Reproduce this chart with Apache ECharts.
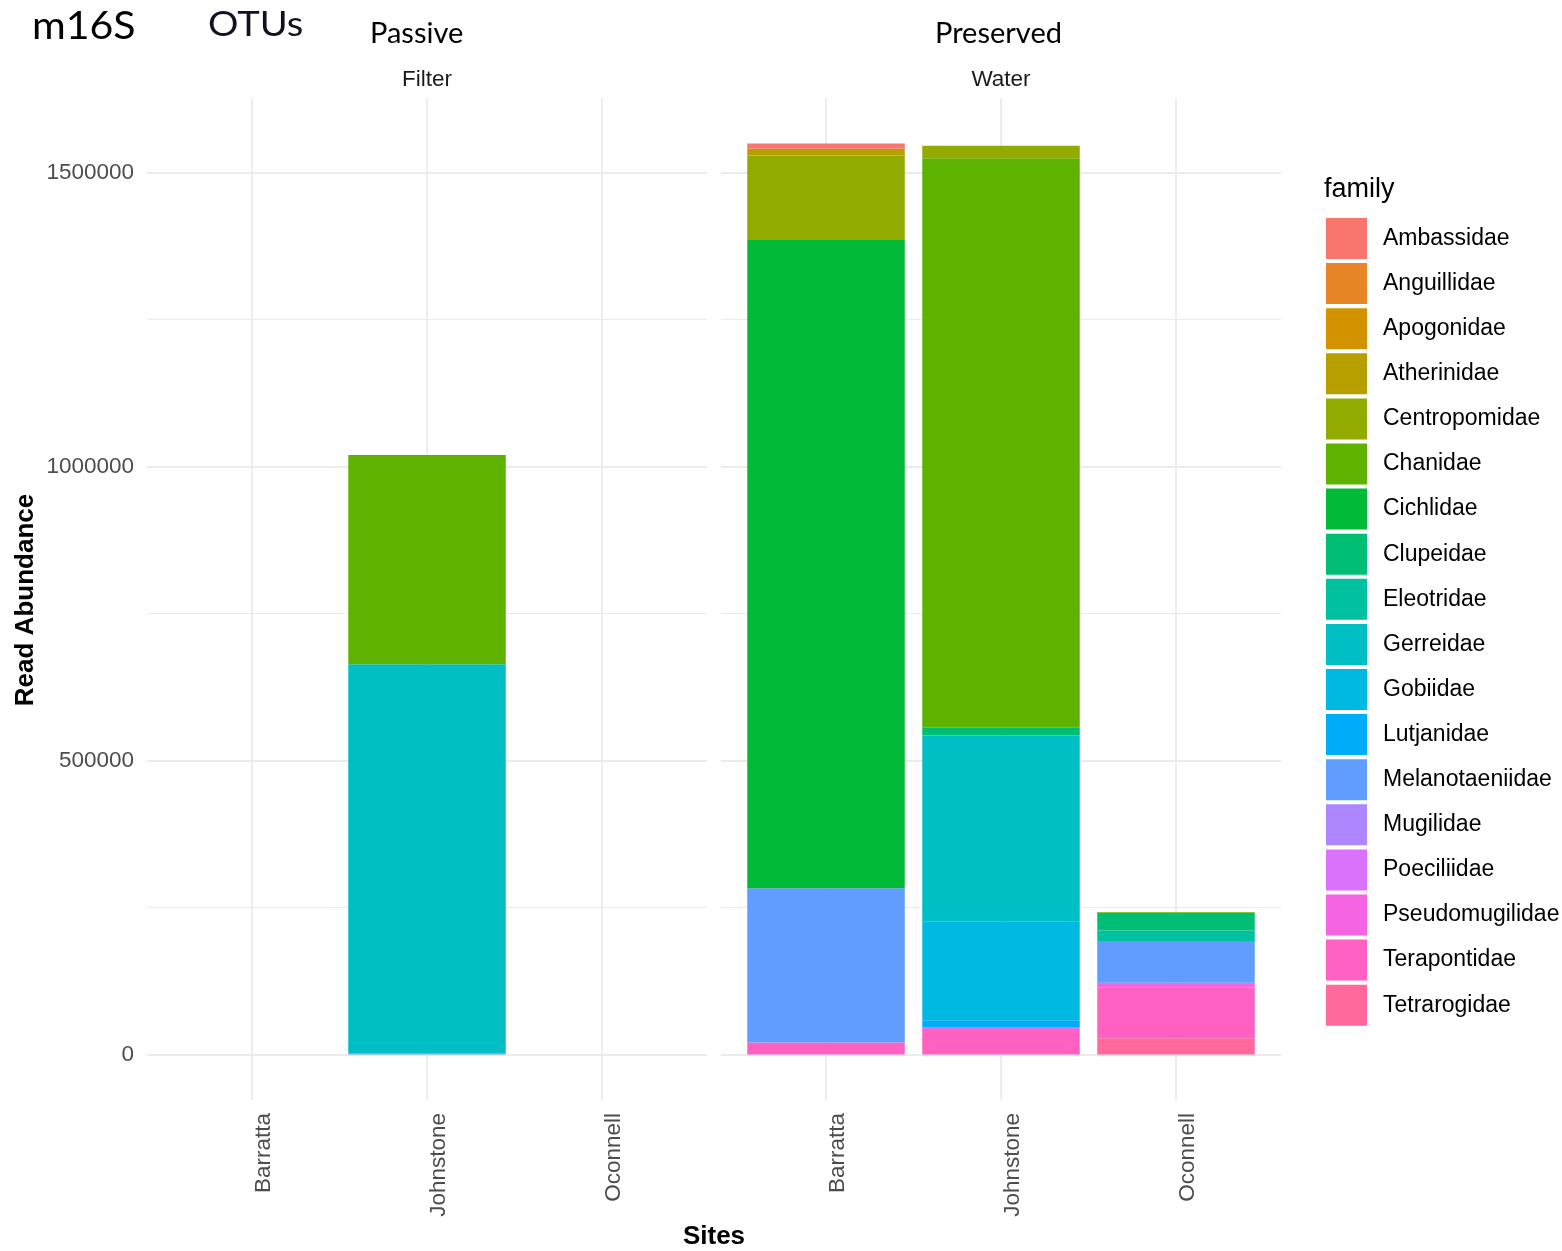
<!DOCTYPE html>
<html>
<head>
<meta charset="utf-8">
<script src="https://cdn.jsdelivr.net/npm/echarts@6/dist/echarts.min.js"></script>
<style>
html,body{margin:0;padding:0;background:#fff;}
#chart{width:1562px;height:1251px;}
</style>
</head>
<body>
<div id="chart"></div>
<script>
// ---- data ----
const sites = ['Barratta', 'Johnstone', 'Oconnell'];
const families = ['Ambassidae','Anguillidae','Apogonidae','Atherinidae','Centropomidae','Chanidae','Cichlidae','Clupeidae','Eleotridae','Gerreidae','Gobiidae','Lutjanidae','Melanotaeniidae','Mugilidae','Poeciliidae','Pseudomugilidae','Terapontidae','Tetrarogidae'];
const familyColors = ['#F8766D','#E88526','#D39200','#B79F00','#93AA00','#5EB300','#00BA38','#00BF74','#00C19F','#00BFC4','#00B9E3','#00ADFA','#619CFF','#AE87FF','#DB72FB','#F564E3','#FF61C3','#FF699C'];
// Passive Filter: values per site [Barratta, Johnstone, Oconnell]
const filterValues = {
  Ambassidae:[0,0,0], Anguillidae:[0,0,0], Apogonidae:[0,0,0], Atherinidae:[0,0,0],
  Centropomidae:[0,0,0], Chanidae:[0,355700,0], Cichlidae:[0,0,0], Clupeidae:[0,0,0],
  Eleotridae:[0,0,0], Gerreidae:[0,661800,0], Gobiidae:[0,0,0], Lutjanidae:[0,0,0],
  Melanotaeniidae:[0,2000,0], Mugilidae:[0,0,0], Poeciliidae:[0,0,0], Pseudomugilidae:[0,0,0],
  Terapontidae:[0,0,0], Tetrarogidae:[0,0,0]
};
// Preserved Water
const waterValues = {
  Ambassidae:[9000,0,0], Anguillidae:[0,0,0], Apogonidae:[0,0,0], Atherinidae:[11400,0,0],
  Centropomidae:[143500,21100,0], Chanidae:[0,969000,1500], Cichlidae:[1103000,0,0], Clupeidae:[0,13100,29400],
  Eleotridae:[0,0,18200], Gerreidae:[0,315900,0], Gobiidae:[0,168500,0], Lutjanidae:[0,11400,0],
  Melanotaeniidae:[262100,0,70800], Mugilidae:[0,0,0], Poeciliidae:[0,3500,0], Pseudomugilidae:[0,0,8500],
  Terapontidae:[20400,43100,85800], Tetrarogidae:[0,0,27700]
};
const majorTicks = [0, 500000, 1000000, 1500000];
const minorTicks = [250000, 750000, 1250000];
const yMin = -77470, yMax = 1626870;

// ---- layout ----
const TOP = 98, H = 1002;
const GRID_COLOR = '#EBEBEB';
const FONT = 'Liberation Sans, Arial, sans-serif';

function bgY(grid, labels, custom, width) {
  return {
    type:'value', gridIndex:grid, min:yMin, max:yMax,
    axisLine:{show:false},
    axisTick:{show:false, customValues:custom},
    axisLabel:{show:labels, customValues:custom, margin:13, color:'#4D4D4D', fontSize:22.5, fontFamily:FONT, formatter:v=>String(v)},
    splitLine:{show:true, lineStyle:{color:GRID_COLOR, width:width}}
  };
}
function dataX(grid) {
  return {
    type:'category', gridIndex:grid, data:sites, position:'bottom',
    axisLine:{show:false, onZero:false},
    axisTick:{show:true, inside:true, length:H, alignWithLabel:true, interval:0, lineStyle:{color:GRID_COLOR, width:1.8}},
    axisLabel:{rotate:90, margin:13, color:'#4D4D4D', fontSize:22.5, fontFamily:FONT, interval:0, verticalAlign:'top'},
    splitLine:{show:false}
  };
}

const series = [];
for (let i = families.length - 1; i >= 0; i--) {
  const f = families[i];
  series.push({name:f, type:'bar', xAxisIndex:2, yAxisIndex:4, stack:'filter', barWidth:'90%', data:filterValues[f], itemStyle:{color:familyColors[i]}, emphasis:{disabled:true}});
  series.push({name:f, type:'bar', xAxisIndex:3, yAxisIndex:5, stack:'water', barWidth:'90%', data:waterValues[f], itemStyle:{color:familyColors[i]}, emphasis:{disabled:true}});
}

const option = {
  animation:false,
  backgroundColor:'#fff',
  grid:[
    {left:147, width:560, top:TOP, height:H},
    {left:721, width:560, top:TOP, height:H},
    {left:164.5, width:525, top:TOP, height:H},
    {left:738.5, width:525, top:TOP, height:H}
  ],
  xAxis:[
    {type:'value', gridIndex:0, min:0, max:1, show:false},
    {type:'value', gridIndex:1, min:0, max:1, show:false},
    dataX(2), dataX(3)
  ],
  yAxis:[
    bgY(0, true, majorTicks, 1.8), bgY(0, false, minorTicks, 1),
    bgY(1, false, majorTicks, 1.8), bgY(1, false, minorTicks, 1),
    {type:'value', gridIndex:2, min:yMin, max:yMax, show:false, splitLine:{show:false}},
    {type:'value', gridIndex:3, min:yMin, max:yMax, show:false, splitLine:{show:false}}
  ],
  legend:{
    data:families, orient:'vertical', left:1326, top:218, padding:0,
    itemWidth:41, itemHeight:41, itemGap:4.1, icon:'rect', selectedMode:false,
    textStyle:{fontSize:23, color:'#000', fontFamily:FONT, padding:[0,0,0,11]}
  },
  graphic:[
    {type:'text', left:32, top:8, style:{text:'m16S', font:'38px Lato', fill:'#000'}, scaleX:1.08},
    {type:'text', left:208, top:8, style:{text:'OTUs', font:'34px Lato', fill:'#111122'}, scaleX:1.12},
    {type:'text', left:370, top:19, style:{text:'Passive', font:'29px Lato', fill:'#000'}},
    {type:'text', left:935, top:19, style:{text:'Preserved', font:'29px Lato', fill:'#000'}},
    {type:'text', x:427, y:80, style:{text:'Filter', font:'22.5px "Liberation Sans"', fill:'#1A1A1A', textAlign:'center', textVerticalAlign:'middle'}},
    {type:'text', x:1001, y:80, style:{text:'Water', font:'22.5px "Liberation Sans"', fill:'#1A1A1A', textAlign:'center', textVerticalAlign:'middle'}},
    {type:'text', x:1324, y:190, style:{text:'family', font:'27px "Liberation Sans"', fill:'#000', textAlign:'left', textVerticalAlign:'middle'}},
    {type:'text', x:714, y:1237, style:{text:'Sites', font:'bold 26px "Liberation Sans"', fill:'#000', textAlign:'center', textVerticalAlign:'middle'}},
    {type:'text', x:26, y:600, rotation:Math.PI/2, style:{text:'Read Abundance', font:'bold 26px "Liberation Sans"', fill:'#000', textAlign:'center', textVerticalAlign:'middle'}}
  ],
  series:series
};
const chart = echarts.init(document.getElementById('chart'), null, {renderer:'canvas'});
chart.setOption(option);
</script>
</body>
</html>
